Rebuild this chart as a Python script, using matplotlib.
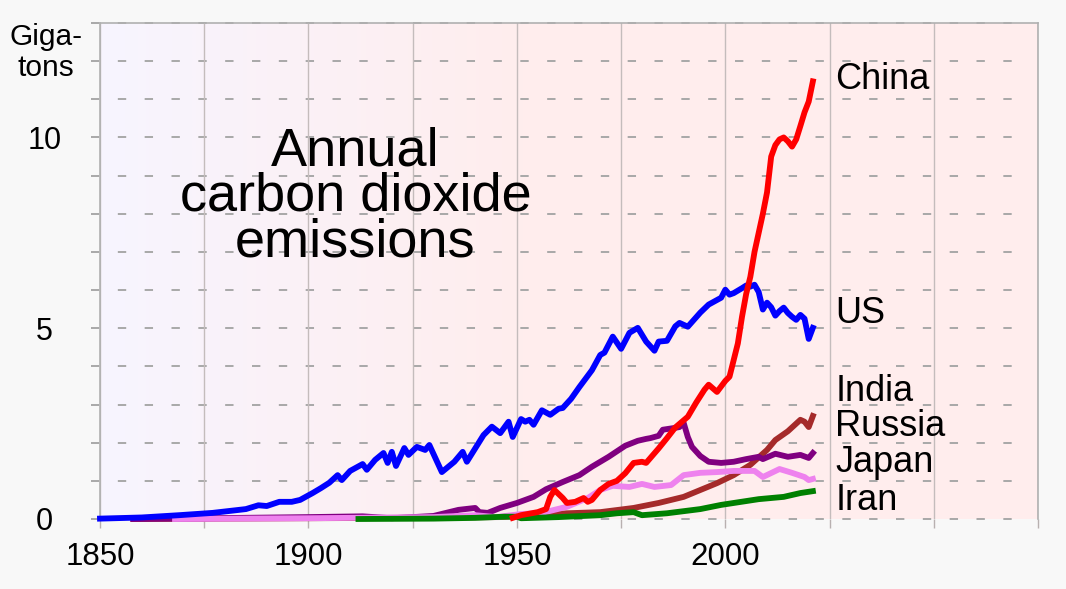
import numpy as np
import matplotlib.pyplot as plt

plt.rcParams['font.family'] = ['Liberation Sans', 'DejaVu Sans']

# annual CO2 emissions, gigatons
us_years = [1850, 1860, 1869, 1877, 1885, 1888, 1890, 1893, 1896, 1898, 1901, 1903, 1905,
            1907, 1908, 1910, 1913, 1914, 1916, 1918, 1919, 1920, 1921, 1923, 1924, 1926,
            1928, 1929, 1932, 1935, 1937, 1938, 1940, 1942, 1944, 1946, 1948, 1949, 1951,
            1952, 1953, 1954, 1956, 1958, 1960, 1961, 1963, 1965, 1968, 1970, 1971, 1973,
            1975, 1977, 1979, 1981, 1983, 1984, 1986, 1988, 1989, 1991, 1994, 1996, 1999,
            2000, 2001, 2002, 2004, 2005, 2006, 2007, 2008, 2009, 2010, 2011, 2012, 2013,
            2014, 2015, 2016, 2017, 2018, 2019, 2020, 2021]
us_vals = [0.01, 0.04, 0.10, 0.16, 0.26, 0.36, 0.34, 0.45, 0.45, 0.50, 0.68, 0.81, 0.95,
           1.15, 1.02, 1.26, 1.44, 1.29, 1.55, 1.73, 1.47, 1.76, 1.39, 1.86, 1.68, 1.89,
           1.81, 1.94, 1.23, 1.50, 1.76, 1.50, 1.85, 2.20, 2.42, 2.25, 2.55, 2.15, 2.62,
           2.55, 2.60, 2.47, 2.85, 2.73, 2.89, 2.91, 3.15, 3.46, 3.90, 4.30, 4.36, 4.78,
           4.46, 4.88, 5.01, 4.65, 4.41, 4.65, 4.67, 5.05, 5.14, 5.04, 5.41, 5.62, 5.80,
           6.01, 5.88, 5.92, 6.05, 6.12, 6.09, 6.14, 5.95, 5.49, 5.67, 5.55, 5.33, 5.45,
           5.54, 5.40, 5.30, 5.22, 5.35, 5.25, 4.72, 5.01]

china_years = [1949, 1951, 1955, 1957, 1958, 1959, 1961, 1962, 1964, 1966, 1967,
               1968, 1970, 1972, 1974, 1976, 1978, 1980, 1981, 1984, 1986, 1988, 1991, 1993,
               1995, 1996, 1998, 2000, 2001, 2003, 2004, 2005, 2006, 2007, 2008, 2009, 2010,
               2011, 2012, 2013, 2014, 2015, 2016, 2017, 2018, 2019, 2020, 2021]
china_vals = [0.03, 0.10, 0.18, 0.26, 0.58, 0.76, 0.55, 0.42, 0.45, 0.55, 0.45,
              0.50, 0.76, 0.92, 1.00, 1.20, 1.47, 1.50, 1.47, 1.85, 2.12, 2.40, 2.68, 3.05,
              3.39, 3.52, 3.33, 3.62, 3.73, 4.60, 5.30, 5.90, 6.35, 7.00, 7.50, 8.00, 8.56,
              9.50, 9.80, 9.95, 10.00, 9.90, 9.76, 9.95, 10.30, 10.66, 10.94, 11.47]

india_years = [1858, 1900, 1920, 1946, 1954, 1962, 1970, 1978, 1984, 1990, 1994, 1998,
               2002, 2006, 2010, 2012, 2015, 2018, 2019, 2020, 2021]
india_vals = [0.0, 0.02, 0.03, 0.05, 0.10, 0.15, 0.18, 0.29, 0.42, 0.58, 0.76, 0.94,
              1.15, 1.42, 1.81, 2.07, 2.30, 2.60, 2.55, 2.41, 2.70]

russia_years = [1858, 1868, 1900, 1913, 1920, 1930, 1936, 1940, 1941, 1943, 1946, 1950,
                1954, 1957, 1961, 1965, 1968, 1972, 1976, 1979, 1981, 1982, 1984, 1985,
                1988, 1989, 1990, 1991, 1992, 1994, 1996, 1999, 2002, 2005, 2008, 2009,
                2012, 2015, 2018, 2020, 2021]
russia_vals = [0.0, 0.01, 0.05, 0.07, 0.02, 0.08, 0.24, 0.29, 0.18, 0.16, 0.29, 0.42,
               0.58, 0.78, 0.97, 1.15, 1.37, 1.63, 1.92, 2.05, 2.10, 2.12, 2.18, 2.34,
               2.39, 2.41, 2.52, 2.15, 1.89, 1.65, 1.50, 1.47, 1.50, 1.57, 1.63, 1.57,
               1.71, 1.63, 1.68, 1.60, 1.73]

japan_years = [1868, 1900, 1920, 1930, 1940, 1945, 1951, 1956, 1962, 1967, 1970, 1973,
               1977, 1980, 1983, 1987, 1990, 1994, 1998, 2002, 2007, 2009, 2013, 2016,
               2019, 2020, 2021]
japan_vals = [0.0, 0.02, 0.04, 0.05, 0.10, 0.05, 0.13, 0.16, 0.32, 0.55, 0.76, 0.87,
              0.84, 0.92, 0.84, 0.89, 1.15, 1.21, 1.23, 1.26, 1.26, 1.10, 1.31, 1.21,
              1.10, 1.02, 1.05]

iran_years = [1912, 1930, 1940, 1947, 1950, 1951, 1960, 1970, 1974, 1978, 1980, 1986,
              1994, 1999, 2002, 2008, 2014, 2018, 2021]
iran_vals = [0.0, 0.01, 0.03, 0.06, 0.06, 0.02, 0.05, 0.10, 0.15, 0.18, 0.10, 0.15,
             0.26, 0.37, 0.42, 0.52, 0.58, 0.68, 0.73]

countries = ['China', 'US', 'India', 'Russia', 'Japan', 'Iran']
label_y = [11.28, 5.14, 3.10, 2.18, 1.23, 0.24]

x_labels = [1850, 1900, 1950, 2000]
y_labels = [0, 5, 10]

fig = plt.figure(figsize=(10.66, 5.89), dpi=100, facecolor='#f8f8f8')
ax = fig.add_axes([100 / 1066, 70 / 589, 938 / 1066, 496 / 589])
ax.set_xlim(1850, 2075)
ax.set_ylim(0, 13)

# background: lavender on the left fading to pink
grad = np.linspace(0, 1, 256)
grad = np.clip(grad / 0.45, 0, 1)
left_col = np.array([0.97, 0.96, 1.0])
right_col = np.array([1.0, 0.93, 0.93])
img = left_col[None, :] * (1 - grad[:, None]) + right_col[None, :] * grad[:, None]
ax.imshow(img[None, :, :], extent=[1850, 2075, 0, 13], aspect='auto', zorder=0,
          interpolation='bilinear')

# vertical grid every 25 years with tick marks below
ax.set_xticks(np.arange(1850, 2076, 25))
ax.set_xticklabels([str(t) if t in x_labels else '' for t in np.arange(1850, 2076, 25)])
ax.grid(axis='x', color='#c4bcbc', lw=1.0, zorder=1)
ax.tick_params(axis='x', length=6.5, color='#b8b0b0', width=1.0, pad=10, labelsize=22.5)

# dashed horizontal lines every gigaton (they also serve as y ticks)
ax.hlines(np.arange(0, 14), 1850 - 9 / 4.17, 2073, colors='#a8a8a8', lw=1.4,
          linestyles=(0, (4.3, 9.5)), zorder=1, clip_on=False)
ax.set_yticks(y_labels)
ax.set_yticklabels([str(v) for v in y_labels], ha='center')
ax.tick_params(axis='y', length=0, pad=40, labelsize=22)

for s in ['left', 'top', 'right']:
    ax.spines[s].set_color('#b0b0b0')
    ax.spines[s].set_linewidth(1.2)
ax.spines['bottom'].set_visible(False)

lw = 4.2
ax.plot(india_years, india_vals, color='#a52a2a', lw=lw, zorder=3, clip_on=False)
ax.plot(russia_years, russia_vals, color='#800080', lw=lw, zorder=3, clip_on=False)
ax.plot(japan_years, japan_vals, color='#ee82ee', lw=lw, zorder=3, clip_on=False)
ax.plot(iran_years, iran_vals, color='#008000', lw=lw, zorder=3, clip_on=False)
ax.plot(us_years, us_vals, color='#0000ff', lw=lw, zorder=4, clip_on=False)
ax.plot(china_years, china_vals, color='#ff0000', lw=lw, zorder=5, clip_on=False)

for name, yv in zip(countries, label_y):
    ax.text(2026.4, yv, name, fontsize=26, va='baseline', ha='left', zorder=6)

# title block
for line, yv in zip(['Annual', 'carbon dioxide', 'emissions'], [9.27, 8.08, 6.88]):
    ax.text(1911.3, yv, line, fontsize=39, ha='center', va='baseline', zorder=6)

fig.text(46 / 1066, 1 - 45 / 589, 'Giga-', fontsize=21.5, ha='center', va='baseline')
fig.text(46 / 1066, 1 - 76 / 589, 'tons', fontsize=21.5, ha='center', va='baseline')

fig.savefig('out.png', dpi=100, facecolor=fig.get_facecolor())
